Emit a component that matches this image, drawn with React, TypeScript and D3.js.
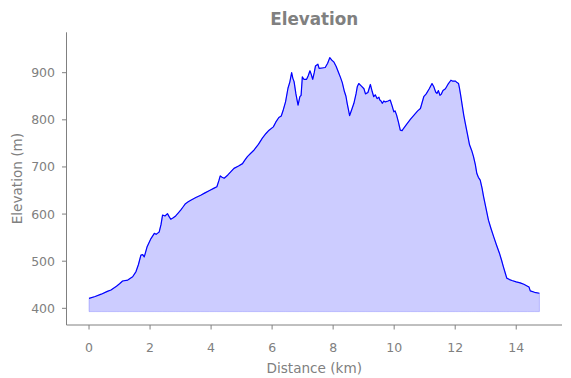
import React from "react";
import * as d3 from "d3";

const distanceKm: number[] = [
  0.0, 0.2, 0.4, 0.6, 0.72, 0.9, 1.0, 1.1, 1.27, 1.43, 1.54, 1.62, 1.7, 1.76, 1.81, 1.9, 2.03, 2.14, 2.2, 2.24,
  2.3, 2.36, 2.41, 2.49, 2.57, 2.63, 2.68, 2.76, 2.84, 2.92, 3.01, 3.08, 3.16, 3.25, 3.35, 3.5, 3.66, 3.8, 3.95, 4.1,
  4.19, 4.26, 4.3, 4.36, 4.43, 4.55, 4.65, 4.75, 4.9, 5.03, 5.1, 5.19, 5.3, 5.41, 5.55, 5.68, 5.8, 5.9, 6.04, 6.12,
  6.22, 6.3, 6.37, 6.44, 6.52, 6.58, 6.64, 6.68, 6.72, 6.78, 6.85, 6.91, 6.95, 6.99, 7.04, 7.13, 7.18, 7.24, 7.28, 7.33,
  7.38, 7.42, 7.5, 7.54, 7.64, 7.74, 7.82, 7.89, 7.95, 8.02, 8.1, 8.18, 8.24, 8.3, 8.37, 8.42, 8.46, 8.5, 8.54, 8.61,
  8.68, 8.75, 8.79, 8.84, 8.92, 9.01, 9.06, 9.14, 9.22, 9.28, 9.33, 9.38, 9.44, 9.5, 9.53, 9.57, 9.61, 9.66, 9.71, 9.8,
  9.87, 9.93, 9.99, 10.03, 10.08, 10.14, 10.2, 10.26, 10.31, 10.4, 10.53, 10.65, 10.77, 10.86, 10.97, 11.05, 11.15, 11.24, 11.3, 11.36,
  11.4, 11.45, 11.5, 11.54, 11.6, 11.68, 11.76, 11.86, 11.92, 12.01, 12.06, 12.11, 12.14, 12.18, 12.22, 12.28, 12.33, 12.4, 12.47, 12.54,
  12.6, 12.66, 12.71, 12.76, 12.82, 12.88, 12.93, 13.0, 13.09, 13.17, 13.26, 13.35, 13.45, 13.52, 13.58, 13.64, 13.69, 13.78, 13.86, 14.0,
  14.13, 14.25, 14.37, 14.42, 14.46, 14.6, 14.76,
];

const elevationM: number[] = [
  421, 425, 430, 436, 439, 447, 452, 458, 460, 467, 478, 493, 513, 514, 509, 530, 548, 559, 557, 559,
  562, 578, 598, 596, 601, 594, 589, 592, 596, 602, 609, 615, 622, 626, 630, 635, 640, 645, 650, 655,
  658, 672, 681, 678, 676, 683, 690, 697, 702, 707, 714, 722, 729, 736, 748, 761, 771, 778, 785, 795,
  805, 808, 822, 838, 867, 880, 900, 888, 881, 855, 831, 849, 852, 891, 886, 886, 893, 904, 897, 886,
  900, 914, 918, 909, 910, 911, 920, 932, 927, 923, 913, 900, 890, 879, 860, 850, 835, 822, 809, 822,
  835, 855, 870, 877, 872, 866, 855, 858, 875, 860, 849, 853, 845, 848, 842, 840, 835, 840, 838, 840,
  842, 830, 817, 819, 810, 795, 778, 777, 782, 790, 801, 810, 819, 824, 849, 855, 866, 877, 870, 859,
  856, 862, 852, 854, 862, 866, 875, 884, 882, 882, 879, 877, 867, 852, 835, 810, 793, 770, 747, 735,
  722, 705, 686, 678, 672, 655, 637, 615, 587, 570, 552, 535, 517, 502, 488, 475, 464, 461, 459, 456,
  454, 451, 447, 445, 437, 434, 432,
];

const fillBase: number[] = [393];
const xTicks: number[] = [0, 2, 4, 6, 8, 10, 12, 14];
const yTicks: number[] = [400, 500, 600, 700, 800, 900];
const xDomain: number[] = [-0.738, 15.5];
const yDomain: number[] = [364.6, 985.7];

const W = 571;
const H = 378;
const left = 66.5;
const right = 562;
const top = 32.3;
const bottom = 325;
const gray = "#808080";
const font = "DejaVu Sans, sans-serif";

export default function App() {
  const x = d3.scaleLinear().domain(xDomain).range([left, right]);
  const y = d3.scaleLinear().domain(yDomain).range([bottom, top]);
  const pts: [number, number][] = distanceKm.map((d, i) => [d, elevationM[i]]);
  const area = d3
    .area<[number, number]>()
    .x((p) => x(p[0]))
    .y0(() => y(fillBase[0]))
    .y1((p) => y(p[1]));
  const line = d3
    .line<[number, number]>()
    .x((p) => x(p[0]))
    .y((p) => y(p[1]));

  return (
    <svg
      width={W}
      height={H}
      style={{ position: "fixed", left: 0, top: 0, background: "#fff" }}
      fontFamily={font}
    >
      <rect x={0} y={0} width={W} height={H} fill="#fff" />
      <path d={area(pts) || ""} fill="rgba(0,0,255,0.2)" stroke="rgba(0,0,255,0.2)" strokeWidth={1} />
      <path d={line(pts) || ""} fill="none" stroke="#0000ff" strokeWidth={1.2} strokeLinejoin="round" />
      {/* spines */}
      <line x1={left} x2={left} y1={top} y2={bottom} stroke={gray} strokeWidth={1} />
      <line x1={left} x2={right} y1={bottom} y2={bottom} stroke={gray} strokeWidth={1} />
      {xTicks.map((t) => (
        <g key={"x" + t}>
          <line x1={x(t)} x2={x(t)} y1={bottom} y2={bottom + 4.5} stroke={gray} strokeWidth={1} />
          <text x={x(t)} y={351.5} textAnchor="middle" fontSize={12.5} fill={gray}>
            {t}
          </text>
        </g>
      ))}
      {yTicks.map((t) => (
        <g key={"y" + t}>
          <line x1={left - 4.5} x2={left} y1={y(t)} y2={y(t)} stroke={gray} strokeWidth={1} />
          <text x={55} y={y(t)} dy="0.36em" textAnchor="end" fontSize={12.5} fill={gray}>
            {t}
          </text>
        </g>
      ))}
      <text x={(left + right) / 2} y={373} textAnchor="middle" fontSize={13.6} fill={gray}>
        Distance (km)
      </text>
      <text
        transform={`translate(22, ${(top + bottom) / 2}) rotate(-90)`}
        textAnchor="middle"
        fontSize={13.6}
        fill={gray}
      >
        Elevation (m)
      </text>
      <text x={(left + right) / 2} y={24.5} textAnchor="middle" fontSize={16.8} fontWeight="bold" fill={gray}>
        Elevation
      </text>
    </svg>
  );
}
